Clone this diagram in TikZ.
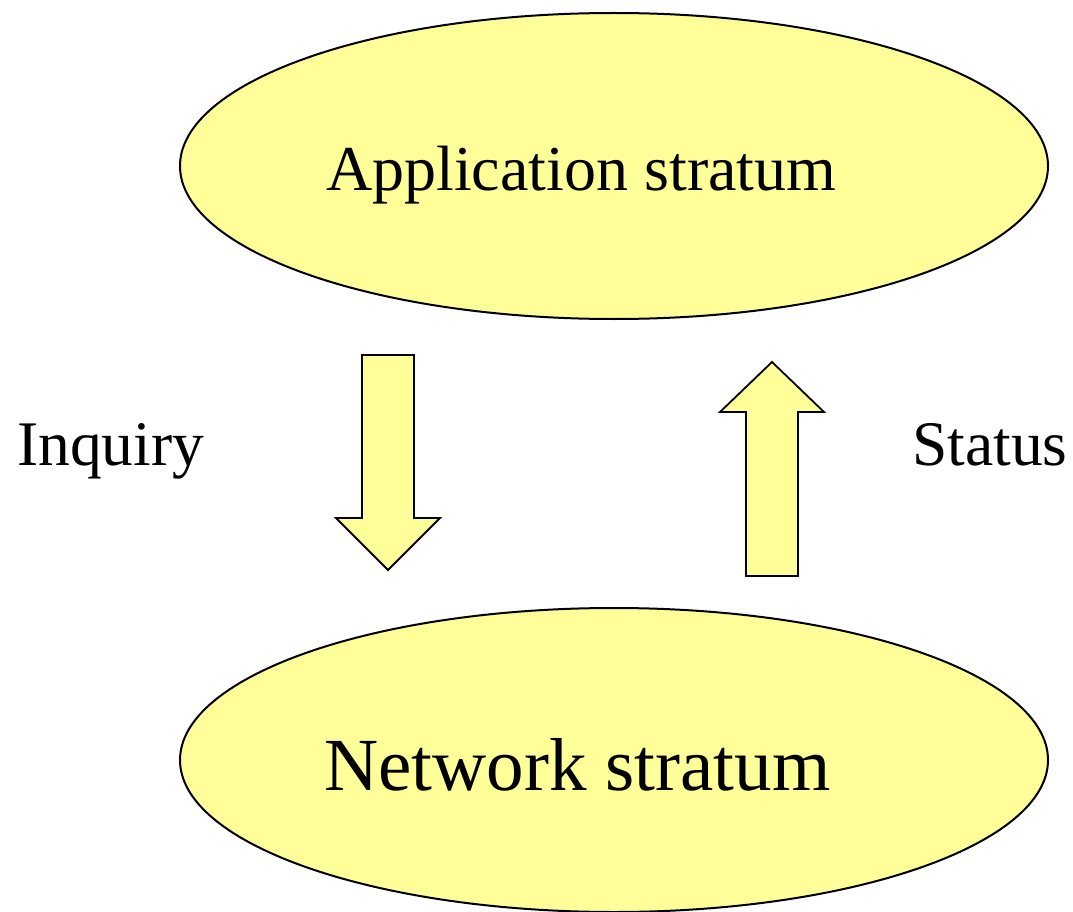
\documentclass[tikz,border=0pt]{standalone}
\usepackage{fontspec}
\setmainfont{Liberation Serif}
\usetikzlibrary{calc}

\definecolor{strataYellow}{HTML}{FFFF99}

\begin{document}
\begin{tikzpicture}[x=1pt,y=-1pt,line join=miter]

\tikzset{
  stratum/.style={draw=black,line width=2pt,fill=strataYellow},
  blockarrow/.style={draw=black,line width=1.8pt,fill=strataYellow},
  label/.style={inner sep=0pt,anchor=base west}
}

\clip (0,0) rectangle (1073,912);

% the two strata
\draw[stratum] (614,166) ellipse [x radius=434,y radius=153];
\draw[stratum] (614,760) ellipse [x radius=434,y radius=152];

\node[label,font=\fontsize{64}{77}\selectfont] (app) at (326,190) {Application stratum};
\node[label,font=\fontsize{75}{90}\selectfont] (net) at (324,790) {Network stratum};

% inquiry goes down
\coordinate (Dt) at (388,355);
\draw[blockarrow] ($(Dt)+(-26,0)$) -- ($(Dt)+(26,0)$) -- ($(Dt)+(26,163)$)
  -- ($(Dt)+(52,163)$) -- ($(Dt)+(0,215)$) -- ($(Dt)+(-52,163)$)
  -- ($(Dt)+(-26,163)$) -- cycle;

% status goes up
\coordinate (Ub) at (772,576);
\draw[blockarrow] ($(Ub)+(-26,0)$) -- ($(Ub)+(26,0)$) -- ($(Ub)+(26,-164)$)
  -- ($(Ub)+(52,-164)$) -- ($(Ub)+(0,-214)$) -- ($(Ub)+(-52,-164)$)
  -- ($(Ub)+(-26,-164)$) -- cycle;

\node[label,font=\fontsize{63.5}{76}\selectfont] (inq) at (17,465) {Inquiry};
\node[label,font=\fontsize{63.5}{76}\selectfont] (stat) at (912,465) {Status};

\end{tikzpicture}
\end{document}
